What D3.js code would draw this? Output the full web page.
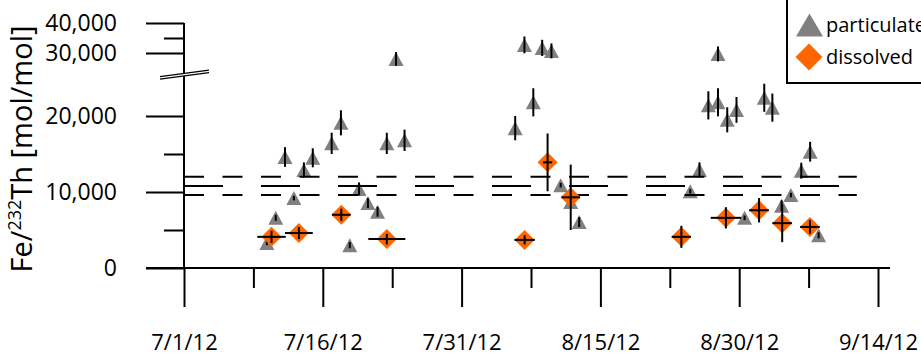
<!DOCTYPE html>
<html>
<head>
<meta charset="utf-8">
<script src="https://cdn.jsdelivr.net/npm/d3@7"></script>
<style>
  body { margin: 0; background: #fff; }
  text { font-family: "Open Sans", sans-serif; fill: #000; }
</style>
</head>
<body>
<div id="wrapper"></div>
<script>
const parseTime = d3.timeParse("%Y-%m-%d %H")

// particulate Fe/232Th (sample time, ratio, 1 sd)
const partDates = [
  "2012-07-09 23", "2012-07-10 22", "2012-07-11 22", "2012-07-12 21", "2012-07-13 23",
  "2012-07-14 22", "2012-07-16 23", "2012-07-17 23", "2012-07-18 22", "2012-07-19 22",
  "2012-07-20 21", "2012-07-21 22", "2012-07-22 22", "2012-07-23 22", "2012-07-24 20",
  "2012-08-05 19", "2012-08-06 19", "2012-08-07 18", "2012-08-08 17", "2012-08-09 17",
  "2012-08-10 17", "2012-08-11 19", "2012-08-12 17",
  "2012-08-24 17", "2012-08-25 17", "2012-08-26 16", "2012-08-27 17", "2012-08-27 17",
  "2012-08-28 17", "2012-08-29 17", "2012-08-30 14", "2012-09-01 17", "2012-09-02 14",
  "2012-09-03 14", "2012-09-04 14", "2012-09-05 17", "2012-09-06 16", "2012-09-07 14"
]
const partValues = [
  3300, 6600, 14600, 9200, 12900,
  14500, 16400, 19100, 3000, 10400,
  8550, 7400, 16400, 28000, 16800,
  18400, 32700, 21800, 31700, 30700,
  10900, 8700, 6050,
  10100, 12900, 21400, 29700, 21800,
  19500, 20800, 6600, 22400, 21100,
  8200, 9600, 12800, 15300, 4300
]
const partErrors = [
  300, 400, 1300, 300, 1000,
  1250, 1400, 1650, 400, 850,
  650, 650, 1400, 2300, 1400,
  1600, 2800, 1850, 2700, 2500,
  300, 300, 650,
  300, 1000, 1850, 2500, 1850,
  1650, 1700, 300, 1850, 1850,
  700, 300, 1050, 1300, 400
]

// dissolved Fe/232Th (integration window start/end, ratio, 1 sd)
const dissStart = [
  "2012-07-08 22", "2012-07-11 22", "2012-07-17 00", "2012-07-20 22",
  "2012-08-05 17", "2012-08-08 19", "2012-08-10 19",
  "2012-08-22 17", "2012-08-26 22", "2012-08-31 02", "2012-09-02 14", "2012-09-05 14"
]
const dissEnd = [
  "2012-07-12 00", "2012-07-14 22", "2012-07-19 00", "2012-07-24 22",
  "2012-08-07 22", "2012-08-09 19", "2012-08-12 19",
  "2012-08-24 19", "2012-08-30 05", "2012-09-02 05", "2012-09-04 17", "2012-09-07 17"
]
const dissValues = [4100, 4600, 7000, 3800, 3700, 13900, 9300, 4100, 6600, 7600, 5900, 5400]
const dissErrors = [800, 800, 800, 700, 600, 3800, 4300, 1450, 1400, 1600, 2500, 900]

// crustal reference ratio and its range
const refValues = [12000, 10800, 9600]
const refDash = ["20 18.5", "39 38", "20 18.5"]
const refRange = ["2012-07-01 00", "2012-09-11 17"]

const xMajorTicks = ["2012-07-01 00", "2012-07-16 00", "2012-07-31 00", "2012-08-15 00", "2012-08-30 00", "2012-09-14 00"]
const xMinorTicks = ["2012-07-08 12", "2012-07-23 12", "2012-08-07 12", "2012-08-22 12", "2012-09-06 12"]
const yLowMajor = [0, 10000, 20000]
const yLowMinor = [5000, 15000]
const yHighMajor = [30000, 40000]
const yHighMinor = [35000]
const breakValue = 25500
const legendLabels = ["particulate", "dissolved"]

const partColor = "#808080"
const dissColor = "#ff6600"

function drawChart() {
  let dimensions = {
    width: 921,
    height: 356,
    margin: { top: 23, right: 43, bottom: 88, left: 184 },
  }
  dimensions.boundedWidth = dimensions.width - dimensions.margin.left - dimensions.margin.right
  dimensions.boundedHeight = dimensions.height - dimensions.margin.top - dimensions.margin.bottom

  const wrapper = d3.select("#wrapper")
    .append("svg")
    .attr("width", dimensions.width)
    .attr("height", dimensions.height)

  const bounds = wrapper.append("g")
    .attr("transform", `translate(${dimensions.margin.left}, ${dimensions.margin.top})`)

  // scales
  const xScaler = d3.scaleTime()
    .domain([parseTime(xMajorTicks[0]), parseTime(xMajorTicks[xMajorTicks.length - 1])])
    .range([0, dimensions.boundedWidth])

  const yLow = d3.scaleLinear()
    .domain([0, 20000])
    .range([dimensions.boundedHeight, dimensions.boundedHeight - 152])
  const yHigh = d3.scaleLinear()
    .domain([30000, 40000])
    .range([30, 0])
  const yPick = v => v > breakValue ? yHigh : yLow

  // x axis
  const xAxisG = bounds.append("g")
    .attr("transform", `translate(0, ${dimensions.boundedHeight})`)
  xAxisG.append("line")
    .attr("x1", -38).attr("x2", dimensions.boundedWidth + 12)
    .attr("stroke", "#000").attr("stroke-width", 2)
  xAxisG.append("g")
    .call(d3.axisBottom(xScaler)
      .tickValues(xMajorTicks.map(parseTime))
      .tickSize(39)
      .tickPadding(27)
      .tickFormat(d3.timeFormat("%-m/%-d/%y")))
    .call(g => g.select(".domain").remove())
    .call(g => g.selectAll(".tick line").attr("stroke-width", 2))
    .call(g => g.selectAll("text").attr("font-size", 22).attr("font-family", "Open Sans"))
  xAxisG.append("g")
    .call(d3.axisBottom(xScaler)
      .tickValues(xMinorTicks.map(parseTime))
      .tickSize(20)
      .tickFormat(""))
    .call(g => g.select(".domain").remove())
    .call(g => g.selectAll(".tick line").attr("stroke-width", 2))

  // y axis (broken)
  bounds.append("line")
    .attr("y1", yHigh(40000)).attr("y2", yLow(0))
    .attr("stroke", "#000").attr("stroke-width", 2)

  const drawYAxis = (scale, majors, minors) => {
    bounds.append("g")
      .call(d3.axisLeft(scale).tickValues(majors).tickSize(38).tickPadding(29)
        .tickFormat(d3.format(",")))
      .call(g => g.select(".domain").remove())
      .call(g => g.selectAll(".tick line").attr("stroke-width", 2))
      .call(g => g.selectAll("text").attr("font-size", 23).attr("font-family", "Open Sans"))
    bounds.append("g")
      .call(d3.axisLeft(scale).tickValues(minors).tickSize(20).tickFormat(""))
      .call(g => g.select(".domain").remove())
      .call(g => g.selectAll(".tick line").attr("stroke-width", 2))
  }
  drawYAxis(yLow, yLowMajor, yLowMinor)
  drawYAxis(yHigh, yHighMajor, yHighMinor)

  // axis break marks
  const yb = yLow(breakValue)
  bounds.append("path")
    .attr("d", `M-24,${yb + 2.5}L25,${yb - 4}L25,${yb - 1.5}L-24,${yb + 5}Z`)
    .attr("fill", "#fff")
  bounds.selectAll(".break")
    .data([0, 2.5])
    .enter()
    .append("line")
    .attr("x1", -24).attr("y1", d => yb + 2.5 + d)
    .attr("x2", 25).attr("y2", d => yb - 4 + d)
    .attr("stroke", "#000").attr("stroke-width", 1.3)

  // y label
  const yLabel = wrapper.append("text")
    .attr("transform", `translate(32, ${dimensions.margin.top + 126}) rotate(-90)`)
    .attr("text-anchor", "middle")
    .attr("font-size", 29)
  yLabel.append("tspan").text("Fe/")
  yLabel.append("tspan").attr("font-size", 18).attr("dy", -11).text("232")
  yLabel.append("tspan").attr("dy", 11).text("Th [mol/mol]")

  // particulate
  const partData = partDates.map((d, i) => ({
    date: parseTime(d), value: partValues[i], err: partErrors[i],
  }))
  const tw = 15, th = 14
  const triangle = (w, h) => `M0,${-h / 2}L${w / 2},${h / 2}L${-w / 2},${h / 2}Z`

  bounds.append("g").selectAll("path")
    .data(partData)
    .enter()
    .append("path")
    .attr("d", triangle(tw, th))
    .attr("transform", d => `translate(${xScaler(d.date)}, ${yPick(d.value)(d.value)})`)
    .attr("fill", partColor)

  bounds.append("g").selectAll("line")
    .data(partData)
    .enter()
    .append("line")
    .attr("x1", d => xScaler(d.date))
    .attr("x2", d => xScaler(d.date))
    .attr("y1", d => yPick(d.value)(d.value - d.err))
    .attr("y2", d => yPick(d.value)(d.value + d.err))
    .attr("stroke", "#000")
    .attr("stroke-width", 2)

  // reference lines
  bounds.append("g").selectAll("line")
    .data(refValues)
    .enter()
    .append("line")
    .attr("x1", xScaler(parseTime(refRange[0])))
    .attr("x2", xScaler(parseTime(refRange[1])))
    .attr("y1", d => yLow(d))
    .attr("y2", d => yLow(d))
    .attr("stroke", "#000")
    .attr("stroke-width", 2)
    .attr("stroke-dasharray", (d, i) => refDash[i])

  // dissolved
  const dissData = dissValues.map((v, i) => {
    const s = parseTime(dissStart[i]), e = parseTime(dissEnd[i])
    return { start: s, end: e, mid: new Date((+s + +e) / 2), value: v, err: dissErrors[i] }
  })
  const r = 10
  const diamond = r => `M0,${-r}L${r},0L0,${r}L${-r},0Z`

  bounds.append("g").selectAll("path")
    .data(dissData)
    .enter()
    .append("path")
    .attr("d", diamond(r))
    .attr("transform", d => `translate(${xScaler(d.mid)}, ${yLow(d.value)})`)
    .attr("fill", dissColor)

  const dissErr = bounds.append("g").selectAll("g")
    .data(dissData)
    .enter()
    .append("g")
  dissErr.append("line")
    .attr("x1", d => xScaler(d.mid)).attr("x2", d => xScaler(d.mid))
    .attr("y1", d => yLow(d.value - d.err)).attr("y2", d => yLow(d.value + d.err))
    .attr("stroke", "#000").attr("stroke-width", 2)
  dissErr.append("line")
    .attr("x1", d => xScaler(d.start)).attr("x2", d => xScaler(d.end))
    .attr("y1", d => yLow(d.value)).attr("y2", d => yLow(d.value))
    .attr("stroke", "#000").attr("stroke-width", 2)

  // legend
  const legend = wrapper.append("g")
    .attr("transform", "translate(787, 0)")
  legend.append("rect")
    .attr("x", 0).attr("y", -10)
    .attr("width", 200).attr("height", 93)
    .attr("fill", "#fff")
    .attr("stroke", "#000")
    .attr("stroke-width", 2)
  legend.append("path")
    .attr("d", triangle(27, 23))
    .attr("transform", "translate(22.5, 25)")
    .attr("fill", partColor)
  legend.append("path")
    .attr("d", diamond(13.5))
    .attr("transform", "translate(22, 57)")
    .attr("fill", dissColor)
  legend.selectAll("text")
    .data(legendLabels)
    .enter()
    .append("text")
    .attr("x", 39)
    .attr("y", (d, i) => 32 + i * 32)
    .attr("font-size", 20)
    .text(d => d)
}

drawChart()
</script>
</body>
</html>
